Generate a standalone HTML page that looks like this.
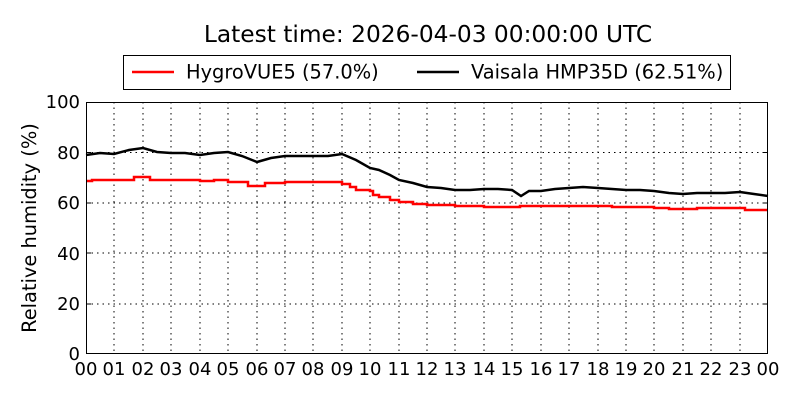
<!DOCTYPE html>
<html><head><style>body{margin:0;background:#fff}svg{display:block;font-family:"DejaVu Sans","Liberation Sans",sans-serif}</style></head>
<body>
<svg width="800" height="400" xmlns="http://www.w3.org/2000/svg">
<text x="428" y="42" font-size="23.3" text-anchor="middle">Latest time: 2026-04-03 00:00:00 UTC</text>
<rect x="123.5" y="55.5" width="607" height="34" fill="#fff" stroke="#000"/>
<line x1="132" y1="72" x2="174" y2="72" stroke="#f00" stroke-width="2.5"/>
<text x="186" y="78.5" font-size="19.4">HygroVUE5 (57.0%)</text>
<line x1="417" y1="72" x2="459" y2="72" stroke="#000" stroke-width="2.5"/>
<text x="471" y="78.5" font-size="19.4">Vaisala HMP35D (62.51%)</text>
<g stroke="#000" stroke-dasharray="1.5,4" stroke-width="1">
<line x1="86" y1="152.5" x2="768" y2="152.5"/><line x1="86" y1="203" x2="768" y2="203"/><line x1="86" y1="253" x2="768" y2="253"/><line x1="86" y1="304" x2="768" y2="304"/>
<line x1="114" y1="102" x2="114" y2="354"/><line x1="143" y1="102" x2="143" y2="354"/><line x1="171" y1="102" x2="171" y2="354"/><line x1="200" y1="102" x2="200" y2="354"/><line x1="228" y1="102" x2="228" y2="354"/><line x1="257" y1="102" x2="257" y2="354"/><line x1="285" y1="102" x2="285" y2="354"/><line x1="313" y1="102" x2="313" y2="354"/><line x1="342" y1="102" x2="342" y2="354"/><line x1="370" y1="102" x2="370" y2="354"/><line x1="399" y1="102" x2="399" y2="354"/><line x1="427" y1="102" x2="427" y2="354"/><line x1="455" y1="102" x2="455" y2="354"/><line x1="484" y1="102" x2="484" y2="354"/><line x1="512" y1="102" x2="512" y2="354"/><line x1="541" y1="102" x2="541" y2="354"/><line x1="569" y1="102" x2="569" y2="354"/><line x1="598" y1="102" x2="598" y2="354"/><line x1="626" y1="102" x2="626" y2="354"/><line x1="654" y1="102" x2="654" y2="354"/><line x1="683" y1="102" x2="683" y2="354"/><line x1="711" y1="102" x2="711" y2="354"/><line x1="740" y1="102" x2="740" y2="354"/>
</g>
<polyline fill="none" stroke="#f00" stroke-width="2.5" points="86,181 92,181 92,180 134,180 134,177 150,177 150,180 200,180 200,181 214,181 214,180 228,180 228,182 248,182 248,186 265,186 265,183 285,183 285,182 342,182 342,184 350,184 350,187 356,187 356,190 370,190 370,191 373,191 373,195 379,195 379,197 390,197 390,200 399,200 399,202 413,202 413,204 427,204 427,205 455,205 455,206 484,206 484,207 512,207 520,207 520,206 598,206 612,206 612,207 654,207 654,208 669,208 669,209 697,209 697,208 740,208 745,208 745,210 768,210"/>
<polyline fill="none" stroke="#000" stroke-width="2.5" points="86,155 100,153 114,154 129,150 143,148 157,152 171,153 185,153 200,155 214,153 228,152 242,156 257,162 271,158 285,156 299,156 313,156 328,156 342,154 356,160 370,168 379,170 390,175 399,180 413,183 427,187 441,188 455,190 470,190 484,189 498,189 512,190 521,196 529,191 541,191 555,189 569,188 583,187 598,188 612,189 626,190 640,190 654,191 669,193 683,194 697,193 711,193 725,193 740,192 754,194 768,196"/>
<rect x="86.5" y="102.5" width="681" height="251" fill="none" stroke="#000"/>
<g stroke="#000" stroke-width="1">
<path d="M86 152.5h5M86 203h5M86 253h5M86 304h5M768 152.5h-5M768 203h-5M768 253h-5M768 304h-5"/>
</g>
<g font-size="18" text-anchor="end">
<text x="80" y="108">100</text><text x="80" y="159">80</text><text x="80" y="209">60</text><text x="80" y="260">40</text><text x="80" y="310">20</text><text x="80" y="360">0</text>
</g>
<g font-size="18" text-anchor="middle">
<text x="86" y="375">00</text><text x="114" y="375">01</text><text x="143" y="375">02</text><text x="171" y="375">03</text><text x="200" y="375">04</text><text x="228" y="375">05</text><text x="257" y="375">06</text><text x="285" y="375">07</text><text x="313" y="375">08</text><text x="342" y="375">09</text><text x="370" y="375">10</text><text x="399" y="375">11</text><text x="427" y="375">12</text><text x="455" y="375">13</text><text x="484" y="375">14</text><text x="512" y="375">15</text><text x="541" y="375">16</text><text x="569" y="375">17</text><text x="598" y="375">18</text><text x="626" y="375">19</text><text x="654" y="375">20</text><text x="683" y="375">21</text><text x="711" y="375">22</text><text x="740" y="375">23</text><text x="768" y="375">00</text>
</g>
<text transform="translate(36,228) rotate(-90)" font-size="19.4" text-anchor="middle">Relative humidity (%)</text>
</svg>
</body></html>
